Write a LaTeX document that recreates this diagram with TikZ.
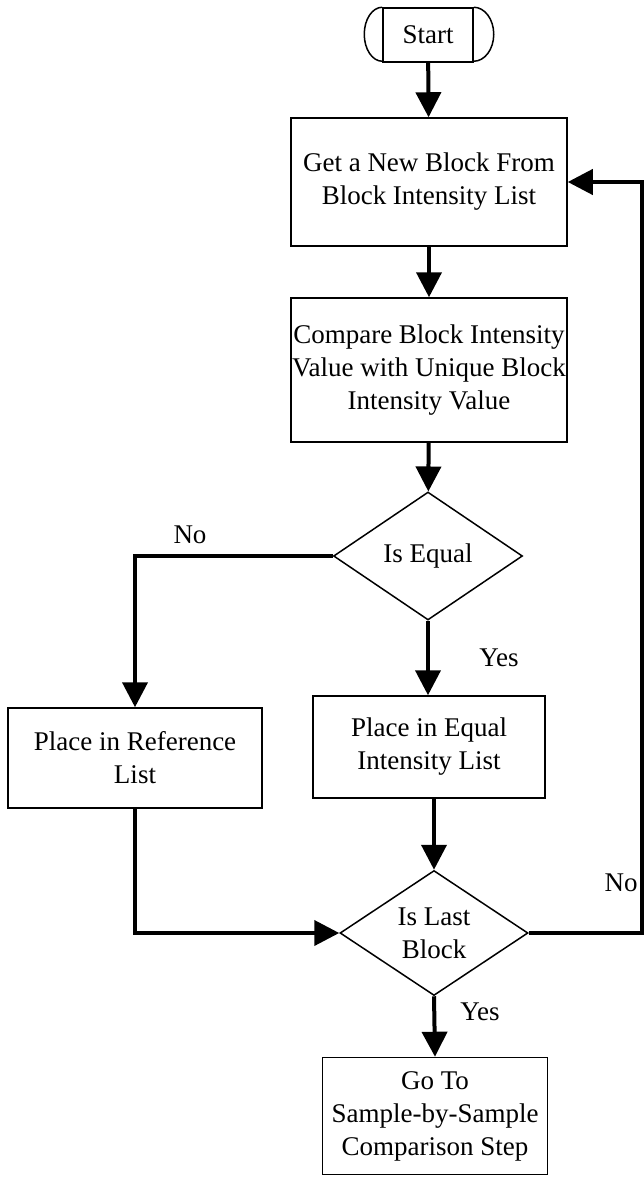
\documentclass[tikz,border=0pt]{standalone}
\usepackage{fontspec}
\setmainfont{Liberation Serif}
\usetikzlibrary{shapes.geometric,arrows.meta}
\tikzstyle{every node}=[font=\fontsize{27}{33}\selectfont,align=center]
\tikzstyle{stepbox}=[draw=black,line width=1.5pt,rectangle,inner sep=0pt]
\tikzstyle{decision}=[draw=black,line width=1.5pt,diamond,inner sep=0pt]
\tikzstyle{flow}=[line width=4pt,-{Triangle[length=25pt,width=25pt]}]

\begin{document}
\begin{tikzpicture}[x=1pt,y=-1pt]
    \useasboundingbox (0,0) rectangle (644,1183);
    % boxes
    \node[stepbox,minimum width=90pt,minimum height=54pt] (start) at (428,35) {Start};
    \draw[line width=1.5pt] (start.north west) arc[start angle=90,end angle=270,x radius=18pt,y radius=27pt];
    \draw[line width=1.5pt] (start.north east) arc[start angle=90,end angle=-90,x radius=20pt,y radius=27pt];
    \node[stepbox,minimum width=276pt,minimum height=128pt] (getblock) at (429,182)
        {Get a New Block From\\Block Intensity List};
    \node[stepbox,minimum width=276pt,minimum height=144pt] (compare) at (429,370)
        {Compare Block Intensity\\Value with Unique Block\\Intensity Value};
    \node[decision,minimum width=189pt,minimum height=128pt] (isequal) at (428,556) {Is Equal};
    \node[stepbox,minimum width=254pt,minimum height=100pt] (reflist) at (135,758)
        {Place in Reference\\List};
    \node[stepbox,minimum width=232pt,minimum height=102pt] (eqlist) at (429,747)
        {Place in Equal\\Intensity List};
    \node[decision,minimum width=188pt,minimum height=125pt] (islast) at (434,933) {Is Last\\Block};
    \node[stepbox,minimum width=225pt,minimum height=117pt] (goto) at (435,1116)
        {Go To\\Sample-by-Sample\\Comparison Step};
    % labels
    \node (no1) at (190,535) {No};
    \node (yes1) at (499,658) {Yes};
    \node (no2) at (621,883) {No};
    \node (yes2) at (480,1012) {Yes};
    % connectors
    \coordinate (back) at (642,933);
    \draw[flow] (start) -- (getblock);
    \draw[flow] (getblock) -- (compare);
    \draw[flow] (compare) -- (isequal);
    \draw[flow] (isequal.west) -| (reflist.north);
    \draw[flow] (isequal.south) -- (isequal.south |- eqlist.north);
    \draw[flow] (eqlist.south -| islast.north) -- (islast.north);
    \draw[flow] (reflist.south) |- (islast.west);
    \draw[flow] (islast.east) -- (back) |- (getblock.east);
    \draw[flow] (islast.south) -- (goto.north);
\end{tikzpicture}
\end{document}
